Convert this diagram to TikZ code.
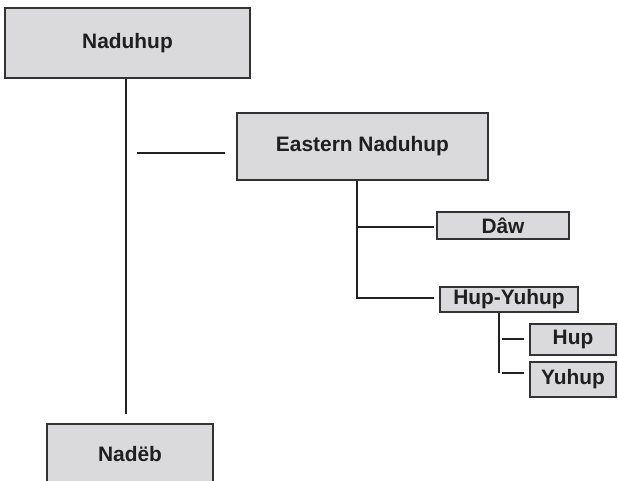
\documentclass[tikz,border=0pt]{standalone}
\usepackage{fontspec}
\setmainfont{Liberation Sans}
\definecolor{boxfill}{HTML}{DADADC}
\definecolor{boxline}{HTML}{333333}
\definecolor{lineclr}{HTML}{222222}
\definecolor{txt}{HTML}{1F1F1F}
\begin{document}
\begin{tikzpicture}[x=1pt,y=-1pt,
  box/.style={draw=boxline,fill=boxfill,line width=1.3pt,inner sep=0pt,text=txt,
    font=\fontsize{20.9}{24}\selectfont\bfseries,anchor=center},
  conn/.style={draw=lineclr,line width=1.3pt}]
\useasboundingbox (0,0) rectangle (618,481);
\clip (0,0) rectangle (618,481);
\fill[white] (0,0) rectangle (618,481);

\node[box,minimum width=245pt,minimum height=70pt] (nad) at (127.5,43) {Naduhup};
\node[box,minimum width=251pt,minimum height=67pt] (east) at (362.5,146.5) {Eastern Naduhup};
\node[box,minimum width=132pt,minimum height=27pt] (daw) at (503,225.5) {Dâw};
\node[box,minimum width=138pt,minimum height=25pt] (hy) at (509,299.5) {Hup-Yuhup};
\node[box,minimum width=86pt,minimum height=31pt] (hup) at (573,339.5) {Hup};
\node[box,minimum width=86pt,minimum height=35pt] (yuh) at (573,379.5) {Yuhup};
\node[box,minimum width=166pt,minimum height=60pt] (nadeb) at (130,454) {Nadëb};

% Naduhup trunk
\coordinate (nadx) at (126,0);
\draw[conn,shorten >=9pt] (nadx |- nad.south) -- (nadx |- nadeb.north);
% free line towards Eastern Naduhup
\coordinate (f1) at (137,153);
\coordinate (f2) at (225,153);
\draw[conn] (f1) -- (f2);

% Eastern Naduhup children
\coordinate (ex) at (357,0);
\draw[conn] (ex |- east.south) |- ([xshift=-5pt,yshift=1.5pt]hy.west);
\coordinate (dl) at ([yshift=-1.5pt]daw.west);
\draw[conn] (ex |- dl) -- ([xshift=-2pt]dl);

% Hup-Yuhup children
\coordinate (hx) at (499,0);
\coordinate (yl) at ([xshift=-27pt,yshift=6.5pt]yuh.west);
\coordinate (yr) at ([xshift=-5pt,yshift=6.5pt]yuh.west);
\draw[conn] (hx |- hy.south) -- (hx |- yl);
\draw[conn] ([xshift=-27pt,yshift=0.5pt]hup.west) -- ([xshift=-5pt,yshift=0.5pt]hup.west);
\draw[conn] (yl) -- (yr);
\end{tikzpicture}
\end{document}
